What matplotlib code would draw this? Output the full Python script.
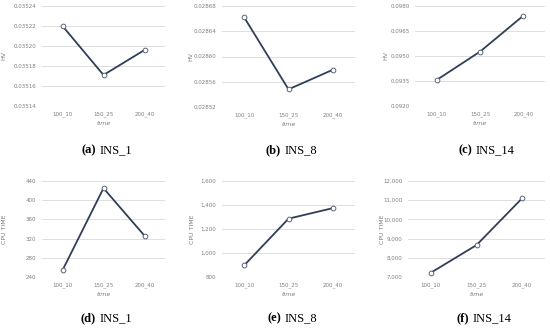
import matplotlib.pyplot as plt
from matplotlib.ticker import FuncFormatter
import numpy as np

categories = ['100_10', '150_25', '200_40']

hv_ins1 = [0.035220, 0.035171, 0.035196]
hv_ins8 = [0.028662, 0.028548, 0.028579]
hv_ins14 = [0.09356, 0.09526, 0.09742]
cpu_ins1 = [254, 425, 326]
cpu_ins8 = [897, 1286, 1374]
cpu_ins14 = [7223, 8662, 11102]

letters = ['a', 'b', 'c', 'd', 'e', 'f']
names = ['INS_1', 'INS_8', 'INS_14', 'INS_1', 'INS_8', 'INS_14']

LINE = '#2F3E5B'
GRID = '#D9D9D9'
TXT = '#7F7F7F'

fig = plt.figure(figsize=(5.5, 3.28), dpi=100)

# axes boxes in pixel coords (left, right, top, bottom)
boxes = [(42, 165, 6, 106), (222, 355, 6, 107), (415, 545, 6, 106),
         (42, 165, 181, 277), (222, 355, 181, 277), (408, 545, 181, 277)]
ylab_x = [4, 191, 386, 5, 193, 382]

series = [hv_ins1, hv_ins8, hv_ins14, cpu_ins1, cpu_ins8, cpu_ins14]
yticks = [np.arange(0.03514, 0.035241, 0.00002),
          np.arange(0.02852, 0.028681, 0.00004),
          np.arange(0.0920, 0.09801, 0.0015),
          np.arange(240, 441, 40),
          np.arange(800, 1601, 200),
          np.arange(7000, 12001, 1000)]
fmts = [lambda v, p: f'{v:.5f}', lambda v, p: f'{v:.5f}', lambda v, p: f'{v:.4f}',
        lambda v, p: f'{v:.0f}', lambda v, p: f'{v:,.0f}', lambda v, p: f'{v:,.0f}']
ylabels = ['HV', 'HV', 'HV', 'CPU TIME', 'CPU TIME', 'CPU TIME']

W, H = 550, 328
x = np.arange(len(categories))

for i in range(6):
    l, r, t, b = boxes[i]
    ax = fig.add_axes([l / W, 1 - b / H, (r - l) / W, (b - t) / H])
    ax.plot(x, series[i], color=LINE, lw=1.3, marker='o', ms=3.4,
            mfc='white', mec='#5A6478', mew=0.7, zorder=3)
    ax.set_xlim(-0.5, 2.5)
    ax.set_yticks(yticks[i])
    ax.set_ylim(yticks[i][0], yticks[i][-1])
    ax.yaxis.set_major_formatter(FuncFormatter(fmts[i]))
    ax.set_xticks(x)
    ax.set_xticklabels(categories)
    ax.tick_params(length=0, labelsize=4, colors=TXT, pad=4)
    ax.grid(axis='y', color=GRID, lw=0.6)
    ax.set_axisbelow(True)
    for s in ax.spines.values():
        s.set_visible(False)
    ax.set_xlabel('time', fontsize=4.5, color=TXT, style='italic', labelpad=3)
    fig.text(ylab_x[i] / W, 1 - (t + b) / 2 / H, ylabels[i], rotation=90,
             fontsize=4.5, color=TXT, ha='center', va='center')
    # caption below the panel
    cx = (l + r) / 2 / W
    cy = 1 - (150 if i < 3 else 318) / H
    fig.text(cx - 0.014, cy, f'({letters[i]})', fontsize=9, fontweight='bold',
             family='Liberation Serif', ha='right', va='center')
    fig.text(cx - 0.008, cy, names[i], fontsize=9,
             family='Liberation Serif', ha='left', va='center')

fig.savefig('out.png', dpi=100)
